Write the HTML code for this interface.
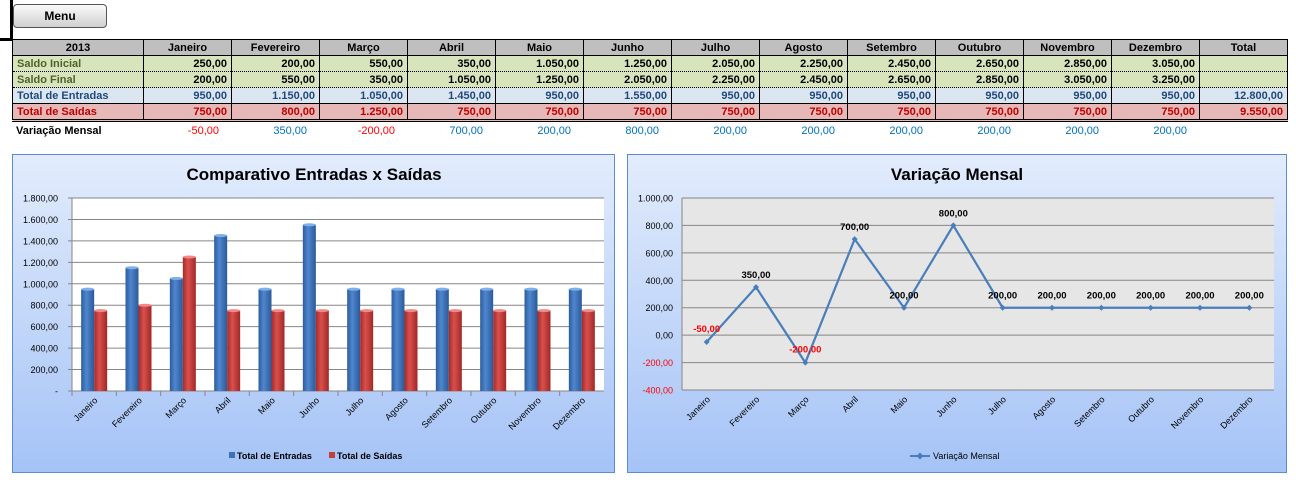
<!DOCTYPE html>
<html><head><meta charset="utf-8">
<style>
body{margin:0;width:1296px;height:488px;background:#fff;position:relative;overflow:hidden;font-family:"Liberation Sans",sans-serif;}
.btn{position:absolute;left:13px;top:4px;width:92px;height:22px;border:1px solid #555;border-radius:4px;background:linear-gradient(#fafafa,#d0d0d0);font-weight:bold;font-size:12px;text-align:center;line-height:22px;}
table{position:absolute;left:12px;top:39px;border-collapse:collapse;font-size:11px;font-weight:bold;}
td{height:15px;padding:0 4px;border-left:1px solid #000;border-right:1px solid #000;text-align:right;white-space:nowrap;}
tr.h td{background:#bfbfbf;text-align:center;border:1px solid #000;}
td.n{text-align:left;}
tr.g td{background:#d8e4bc;color:#000;border-bottom:1px dotted #000;}
tr.g td.n{color:#4f6228;}
tr.b td{background:#dce6f1;color:#1f497d;border-bottom:1px solid #000;}
tr.r td{background:#e6b8b7;color:#c00000;border-bottom:3px double #000;}
.vm{position:absolute;left:16px;top:125px;font-size:11px;font-weight:bold;}
.v{position:absolute;top:125px;font-size:11px;width:80px;text-align:right;}
svg{position:absolute;left:0;top:0;}
</style></head><body>
<div style="position:absolute;left:10px;top:0;width:3px;height:40px;background:#000"></div>
<div style="position:absolute;left:0;top:38px;width:12px;height:3px;background:#000"></div>
<div class="btn">Menu</div>
<table>
<colgroup><col style="width:131px"><col span="12" style="width:88px"><col style="width:88px"></colgroup>
<tr class="h"><td>2013</td><td>Janeiro</td><td>Fevereiro</td><td>Março</td><td>Abril</td><td>Maio</td><td>Junho</td><td>Julho</td><td>Agosto</td><td>Setembro</td><td>Outubro</td><td>Novembro</td><td>Dezembro</td><td>Total</td></tr>
<tr class="g"><td class="n">Saldo Inicial</td><td>250,00</td><td>200,00</td><td>550,00</td><td>350,00</td><td>1.050,00</td><td>1.250,00</td><td>2.050,00</td><td>2.250,00</td><td>2.450,00</td><td>2.650,00</td><td>2.850,00</td><td>3.050,00</td><td></td></tr>
<tr class="g"><td class="n">Saldo Final</td><td>200,00</td><td>550,00</td><td>350,00</td><td>1.050,00</td><td>1.250,00</td><td>2.050,00</td><td>2.250,00</td><td>2.450,00</td><td>2.650,00</td><td>2.850,00</td><td>3.050,00</td><td>3.250,00</td><td></td></tr>
<tr class="b"><td class="n">Total de Entradas</td><td>950,00</td><td>1.150,00</td><td>1.050,00</td><td>1.450,00</td><td>950,00</td><td>1.550,00</td><td>950,00</td><td>950,00</td><td>950,00</td><td>950,00</td><td>950,00</td><td>950,00</td><td>12.800,00</td></tr>
<tr class="r"><td class="n">Total de Saídas</td><td>750,00</td><td>800,00</td><td>1.250,00</td><td>750,00</td><td>750,00</td><td>750,00</td><td>750,00</td><td>750,00</td><td>750,00</td><td>750,00</td><td>750,00</td><td>750,00</td><td>9.550,00</td></tr>
</table>
<div class="vm">Variação Mensal</div>
<div id="vv"></div>
<svg id="s" width="1296" height="488" font-family="Liberation Sans, sans-serif"></svg>
<script>
var M=["Janeiro","Fevereiro","Março","Abril","Maio","Junho","Julho","Agosto","Setembro","Outubro","Novembro","Dezembro"];
var E=[950,1150,1050,1450,950,1550,950,950,950,950,950,950],S=[750,800,1250,750,750,750,750,750,750,750,750,750];
var V=[-50,350,-200,700,200,800,200,200,200,200,200,200];
function f(n){var s=Math.abs(n).toFixed(2).replace('.',',');var p=s.split(',');p[0]=p[0].replace(/\B(?=(\d{3})+(?!\d))/g,'.');return (n<0?'-':'')+p[0]+','+p[1];}
var vv='';V.forEach(function(v,i){vv+='<div class="v" style="left:'+(143+88*i-4)+'px;color:'+(v<0?'#ff0000':'#0070c0')+'">'+f(v)+'</div>';});
document.getElementById('vv').innerHTML=vv;
var h='<defs><linearGradient id="pg" x1="0" y1="0" x2="0" y2="1"><stop offset="0" stop-color="#e2ecfc"/><stop offset="1" stop-color="#a5c3f7"/></linearGradient>'+
'<linearGradient id="bb" x1="0" x2="1"><stop offset="0" stop-color="#2c5d9c"/><stop offset=".4" stop-color="#4f86cf"/><stop offset="1" stop-color="#2b5a98"/></linearGradient>'+
'<linearGradient id="rb" x1="0" x2="1"><stop offset="0" stop-color="#a52a28"/><stop offset=".4" stop-color="#d9504d"/><stop offset="1" stop-color="#a02826"/></linearGradient></defs>';
h+='<rect x="12.5" y="154.5" width="602" height="318" fill="url(#pg)" stroke="#5b8bd0"/>';
h+='<rect x="627.5" y="154.5" width="659" height="318" fill="url(#pg)" stroke="#5b8bd0"/>';
h+='<text x="314" y="180" font-size="17" font-weight="bold" text-anchor="middle">Comparativo  Entradas x Saídas</text>';
h+='<text x="957" y="180" font-size="17" font-weight="bold" text-anchor="middle">Variação  Mensal</text>';
var L=72,R=604,B=391,k=(391-198)/1800,cw=(R-L)/12;
h+='<rect x="'+L+'" y="198" width="'+(R-L)+'" height="193" fill="#fff"/>';
for(var i=0;i<=9;i++){var y=B-i*200*k;h+='<line x1="'+(L-4)+'" x2="'+R+'" y1="'+y+'" y2="'+y+'" stroke="#868686"/>';
h+='<text x="58" y="'+(y+3.5)+'" font-size="9" text-anchor="end">'+(i==0?'-':f(i*200))+'</text>';}
h+='<line x1="'+L+'" x2="'+L+'" y1="198" y2="'+B+'" stroke="#868686"/>';
for(var i=0;i<12;i++){var x=L+i*cw;h+='<line x1="'+x+'" x2="'+x+'" y1="'+B+'" y2="'+(B+5)+'" stroke="#868686"/>';
var c=x+cw/2;h+='<rect x="'+(c-13)+'" y="'+(B-E[i]*k)+'" width="13" height="'+(E[i]*k)+'" fill="url(#bb)"/><ellipse cx="'+(c-6.5)+'" cy="'+(B-E[i]*k)+'" rx="6.5" ry="1.5" fill="#7fb0ea"/>';
h+='<rect x="'+c+'" y="'+(B-S[i]*k)+'" width="13" height="'+(S[i]*k)+'" fill="url(#rb)"/><ellipse cx="'+(c+6.5)+'" cy="'+(B-S[i]*k)+'" rx="6.5" ry="1.5" fill="#f08a88"/>';
h+='<text transform="translate('+(c+4)+','+(B+10)+') rotate(-45)" font-size="9" text-anchor="end">'+M[i]+'</text>';}
h+='<rect x="229" y="452" width="6" height="6" fill="#3d72b8"/><text x="237" y="459" font-size="9" font-weight="bold">Total de Entradas</text>';
h+='<rect x="329" y="452" width="6" height="6" fill="#c0403d"/><text x="337" y="459" font-size="9" font-weight="bold">Total de Saídas</text>';
var L2=682,R2=1274,T2=198,B2=390,k2=(B2-T2)/1400,cw2=(R2-L2)/12;function yy(v){return B2-(v+400)*k2;}
h+='<rect x="'+L2+'" y="'+T2+'" width="'+(R2-L2)+'" height="'+(B2-T2)+'" fill="#e6e6e6"/>';
for(var i=0;i<=7;i++){var v=-400+i*200,y=yy(v);h+='<line x1="'+L2+'" x2="'+R2+'" y1="'+y+'" y2="'+y+'" stroke="#868686"/>';
h+='<text x="673" y="'+(y+3.5)+'" font-size="9" text-anchor="end" fill="'+(v<0?'#ff0000':'#000')+'">'+f(v)+'</text>';}
h+='<line x1="'+L2+'" x2="'+L2+'" y1="'+T2+'" y2="'+B2+'" stroke="#868686"/>';
var pts=[];for(var i=0;i<12;i++){var c=L2+cw2*(i+.5);pts.push(c+','+yy(V[i]));
h+='<text transform="translate('+(c+4)+','+(B2+10)+') rotate(-45)" font-size="9" text-anchor="end">'+M[i]+'</text>';}
h+='<polyline points="'+pts.join(' ')+'" fill="none" stroke="#4a7ebb" stroke-width="2.2"/>';
for(var i=0;i<12;i++){var c=L2+cw2*(i+.5),y=yy(V[i]);h+='<path d="M'+(c-3)+' '+y+'L'+c+' '+(y-3)+'L'+(c+3)+' '+y+'L'+c+' '+(y+3)+'Z" fill="#4a7ebb"/>';
var ly=(i==0||i==2)?y-10:y-9;
h+='<text x="'+c+'" y="'+ly+'" font-size="9.5" font-weight="bold" text-anchor="middle" fill="'+(V[i]<0?'#ff0000':'#000')+'">'+f(V[i])+'</text>';}
h+='<line x1="910" x2="930" y1="456" y2="456" stroke="#4a7ebb" stroke-width="2"/><path d="M916.5 456L920 452.5L923.5 456L920 459.5Z" fill="#4a7ebb"/><text x="933" y="459" font-size="9">Variação Mensal</text>';
document.getElementById('s').innerHTML=h;
</script>
</body></html>
